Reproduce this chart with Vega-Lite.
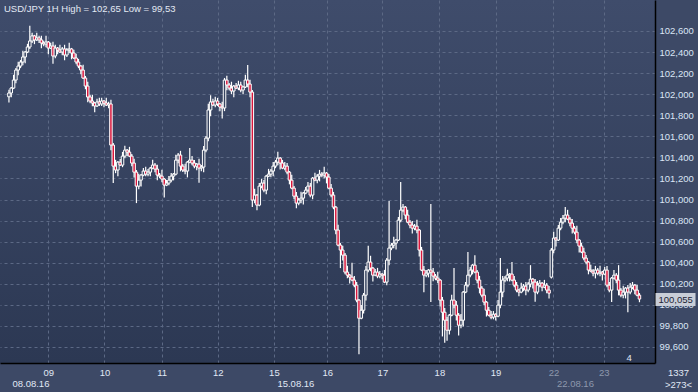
{
"$schema": "https://vega.github.io/schema/vega-lite/v6.json",
"width": 655, "height": 363,
"autosize": "none",
"padding": {"left": 0, "top": 0, "right": 43, "bottom": 29},
"background": "#3d4966",
"title": {"text": "USD/JPY 1H High = 102,65 Low = 99,53", "anchor": "start", "offset": -13, "fontSize": 9.5, "font": "Liberation Sans", "fontWeight": "normal", "color": "#e3e9f4", "dx": 4},
"config": {
  "view": {"stroke": null, "fill": {"gradient": "linear", "x1": 0, "y1": 0, "x2": 0, "y2": 1, "stops": [{"offset": 0, "color": "#3f4c6b"}, {"offset": 1, "color": "#2c3853"}]}},
  "axis": {"labelFont": "Liberation Sans", "labelFontSize": 9.5, "titleFont": "Liberation Sans", "titleFontSize": 9.5, "titleFontWeight": "normal", "titleColor": "#e0e8f5"}
},
"data": {"values": [
{"i":0,"o":101.975,"h":102.041,"l":101.92,"c":102.011},
{"i":1,"o":102.011,"h":102.068,"l":101.971,"c":102.058},
{"i":2,"o":102.058,"h":102.184,"l":102.048,"c":102.134},
{"i":3,"o":102.134,"h":102.249,"l":102.104,"c":102.229},
{"i":4,"o":102.229,"h":102.307,"l":102.179,"c":102.267},
{"i":5,"o":102.267,"h":102.325,"l":102.247,"c":102.305},
{"i":6,"o":102.305,"h":102.413,"l":102.275,"c":102.353},
{"i":7,"o":102.353,"h":102.41,"l":102.293,"c":102.4},
{"i":8,"o":102.4,"h":102.478,"l":102.39,"c":102.448},
{"i":9,"o":102.448,"h":102.65,"l":102.428,"c":102.505},
{"i":10,"o":102.505,"h":102.583,"l":102.485,"c":102.553},
{"i":11,"o":102.553,"h":102.563,"l":102.475,"c":102.515},
{"i":12,"o":102.515,"h":102.584,"l":102.505,"c":102.534},
{"i":13,"o":102.534,"h":102.554,"l":102.485,"c":102.515},
{"i":14,"o":102.515,"h":102.555,"l":102.436,"c":102.486},
{"i":15,"o":102.486,"h":102.506,"l":102.456,"c":102.476},
{"i":16,"o":102.476,"h":102.555,"l":102.446,"c":102.495},
{"i":17,"o":102.495,"h":102.505,"l":102.378,"c":102.438},
{"i":18,"o":102.438,"h":102.487,"l":102.428,"c":102.457},
{"i":19,"o":102.457,"h":102.497,"l":102.29,"c":102.362},
{"i":20,"o":102.362,"h":102.468,"l":102.342,"c":102.438},
{"i":21,"o":102.438,"h":102.448,"l":102.379,"c":102.419},
{"i":22,"o":102.419,"h":102.469,"l":102.39,"c":102.4},
{"i":23,"o":102.4,"h":102.449,"l":102.37,"c":102.429},
{"i":24,"o":102.429,"h":102.469,"l":102.322,"c":102.372},
{"i":25,"o":102.372,"h":102.439,"l":102.352,"c":102.419},
{"i":26,"o":102.419,"h":102.489,"l":102.389,"c":102.429},
{"i":27,"o":102.429,"h":102.439,"l":102.331,"c":102.391},
{"i":28,"o":102.391,"h":102.421,"l":102.333,"c":102.343},
{"i":29,"o":102.343,"h":102.383,"l":102.285,"c":102.305},
{"i":30,"o":102.305,"h":102.335,"l":102.247,"c":102.267},
{"i":31,"o":102.267,"h":102.277,"l":102.189,"c":102.229},
{"i":32,"o":102.229,"h":102.279,"l":102.143,"c":102.153},
{"i":33,"o":102.153,"h":102.173,"l":102.047,"c":102.077},
{"i":34,"o":102.077,"h":102.117,"l":101.923,"c":101.973},
{"i":35,"o":101.973,"h":101.993,"l":101.915,"c":101.935},
{"i":36,"o":101.935,"h":101.995,"l":101.886,"c":101.916},
{"i":37,"o":101.916,"h":101.926,"l":101.828,"c":101.888},
{"i":38,"o":101.888,"h":101.956,"l":101.878,"c":101.926},
{"i":39,"o":101.926,"h":101.966,"l":101.887,"c":101.907},
{"i":40,"o":101.907,"h":101.965,"l":101.887,"c":101.935},
{"i":41,"o":101.935,"h":101.945,"l":101.876,"c":101.916},
{"i":42,"o":101.916,"h":101.966,"l":101.887,"c":101.897},
{"i":43,"o":101.897,"h":101.927,"l":101.867,"c":101.907},
{"i":44,"o":101.907,"h":101.947,"l":101.467,"c":101.517},
{"i":45,"o":101.517,"h":101.537,"l":101.156,"c":101.317},
{"i":46,"o":101.317,"h":101.377,"l":101.25,"c":101.28},
{"i":47,"o":101.28,"h":101.365,"l":101.22,"c":101.355},
{"i":48,"o":101.355,"h":101.385,"l":101.317,"c":101.327},
{"i":49,"o":101.327,"h":101.452,"l":101.307,"c":101.412},
{"i":50,"o":101.412,"h":101.51,"l":101.392,"c":101.469},
{"i":51,"o":101.469,"h":101.479,"l":101.41,"c":101.45},
{"i":52,"o":101.45,"h":101.5,"l":101.402,"c":101.412},
{"i":53,"o":101.412,"h":101.432,"l":101.316,"c":101.346},
{"i":54,"o":101.346,"h":101.386,"l":101.21,"c":101.26},
{"i":55,"o":101.26,"h":101.28,"l":100.966,"c":101.127},
{"i":56,"o":101.127,"h":101.244,"l":101.097,"c":101.184},
{"i":57,"o":101.184,"h":101.242,"l":101.124,"c":101.232},
{"i":58,"o":101.232,"h":101.3,"l":101.222,"c":101.27},
{"i":59,"o":101.27,"h":101.31,"l":101.221,"c":101.241},
{"i":60,"o":101.241,"h":101.29,"l":101.221,"c":101.26},
{"i":61,"o":101.26,"h":101.308,"l":101.22,"c":101.298},
{"i":62,"o":101.298,"h":101.377,"l":101.288,"c":101.327},
{"i":63,"o":101.327,"h":101.347,"l":101.259,"c":101.289},
{"i":64,"o":101.289,"h":101.329,"l":101.182,"c":101.232},
{"i":65,"o":101.232,"h":101.252,"l":101.202,"c":101.222},
{"i":66,"o":101.222,"h":101.282,"l":101.164,"c":101.194},
{"i":67,"o":101.194,"h":101.204,"l":101.02,"c":101.137},
{"i":68,"o":101.137,"h":101.186,"l":101.127,"c":101.156},
{"i":69,"o":101.156,"h":101.224,"l":101.136,"c":101.184},
{"i":70,"o":101.184,"h":101.252,"l":101.164,"c":101.222},
{"i":71,"o":101.222,"h":101.251,"l":101.182,"c":101.241},
{"i":72,"o":101.241,"h":101.424,"l":101.231,"c":101.374},
{"i":73,"o":101.374,"h":101.442,"l":101.344,"c":101.422},
{"i":74,"o":101.422,"h":101.462,"l":101.267,"c":101.317},
{"i":75,"o":101.317,"h":101.337,"l":101.26,"c":101.28},
{"i":76,"o":101.28,"h":101.34,"l":101.24,"c":101.27},
{"i":77,"o":101.27,"h":101.365,"l":101.21,"c":101.355},
{"i":78,"o":101.355,"h":101.49,"l":101.345,"c":101.374},
{"i":79,"o":101.374,"h":101.414,"l":101.326,"c":101.346},
{"i":80,"o":101.346,"h":101.376,"l":101.297,"c":101.317},
{"i":81,"o":101.317,"h":101.346,"l":101.277,"c":101.336},
{"i":82,"o":101.336,"h":101.386,"l":101.16,"c":101.298},
{"i":83,"o":101.298,"h":101.328,"l":101.268,"c":101.308},
{"i":84,"o":101.308,"h":101.509,"l":101.258,"c":101.469},
{"i":85,"o":101.469,"h":101.603,"l":101.449,"c":101.583},
{"i":86,"o":101.583,"h":101.91,"l":101.553,"c":101.85},
{"i":87,"o":101.85,"h":101.99,"l":101.79,"c":101.926},
{"i":88,"o":101.926,"h":101.956,"l":101.887,"c":101.897},
{"i":89,"o":101.897,"h":101.975,"l":101.877,"c":101.935},
{"i":90,"o":101.935,"h":101.965,"l":101.887,"c":101.907},
{"i":91,"o":101.907,"h":101.917,"l":101.838,"c":101.878},
{"i":92,"o":101.878,"h":101.928,"l":101.77,"c":101.869},
{"i":93,"o":101.869,"h":102.154,"l":101.839,"c":102.134},
{"i":94,"o":102.134,"h":102.174,"l":102.037,"c":102.087},
{"i":95,"o":102.087,"h":102.107,"l":102.038,"c":102.058},
{"i":96,"o":102.058,"h":102.118,"l":102.0,"c":102.03},
{"i":97,"o":102.03,"h":102.087,"l":101.97,"c":102.077},
{"i":98,"o":102.077,"h":102.107,"l":102.048,"c":102.058},
{"i":99,"o":102.058,"h":102.127,"l":102.038,"c":102.087},
{"i":100,"o":102.087,"h":102.117,"l":102.019,"c":102.039},
{"i":101,"o":102.039,"h":102.078,"l":101.999,"c":102.068},
{"i":102,"o":102.068,"h":102.184,"l":102.058,"c":102.134},
{"i":103,"o":102.134,"h":102.277,"l":102.066,"c":102.096},
{"i":104,"o":102.096,"h":102.136,"l":101.97,"c":102.02},
{"i":105,"o":102.02,"h":102.04,"l":100.928,"c":100.995},
{"i":106,"o":100.995,"h":101.102,"l":100.965,"c":101.042},
{"i":107,"o":101.042,"h":101.052,"l":100.899,"c":100.947},
{"i":108,"o":100.947,"h":101.157,"l":100.937,"c":101.127},
{"i":109,"o":101.127,"h":101.196,"l":101.107,"c":101.156},
{"i":110,"o":101.156,"h":101.186,"l":101.069,"c":101.089},
{"i":111,"o":101.089,"h":101.232,"l":101.049,"c":101.222},
{"i":112,"o":101.222,"h":101.291,"l":101.212,"c":101.241},
{"i":113,"o":101.241,"h":101.29,"l":101.211,"c":101.27},
{"i":114,"o":101.27,"h":101.357,"l":101.22,"c":101.317},
{"i":115,"o":101.317,"h":101.375,"l":101.297,"c":101.355},
{"i":116,"o":101.355,"h":101.453,"l":101.325,"c":101.393},
{"i":117,"o":101.393,"h":101.403,"l":101.286,"c":101.346},
{"i":118,"o":101.346,"h":101.376,"l":101.288,"c":101.298},
{"i":119,"o":101.298,"h":101.357,"l":101.278,"c":101.317},
{"i":120,"o":101.317,"h":101.347,"l":101.24,"c":101.26},
{"i":121,"o":101.26,"h":101.27,"l":101.144,"c":101.184},
{"i":122,"o":101.184,"h":101.234,"l":101.098,"c":101.108},
{"i":123,"o":101.108,"h":101.128,"l":101.002,"c":101.032},
{"i":124,"o":101.032,"h":101.072,"l":100.916,"c":100.966},
{"i":125,"o":100.966,"h":101.015,"l":100.946,"c":100.995},
{"i":126,"o":100.995,"h":101.073,"l":100.965,"c":101.013},
{"i":127,"o":101.013,"h":101.071,"l":100.953,"c":101.061},
{"i":128,"o":101.061,"h":101.119,"l":101.051,"c":101.089},
{"i":129,"o":101.089,"h":101.167,"l":101.069,"c":101.127},
{"i":130,"o":101.127,"h":101.157,"l":101.022,"c":101.042},
{"i":131,"o":101.042,"h":101.213,"l":101.002,"c":101.203},
{"i":132,"o":101.203,"h":101.253,"l":101.174,"c":101.184},
{"i":133,"o":101.184,"h":101.242,"l":101.154,"c":101.222},
{"i":134,"o":101.222,"h":101.281,"l":101.172,"c":101.241},
{"i":135,"o":101.241,"h":101.261,"l":101.212,"c":101.232},
{"i":136,"o":101.232,"h":101.311,"l":101.202,"c":101.251},
{"i":137,"o":101.251,"h":101.261,"l":101.153,"c":101.213},
{"i":138,"o":101.213,"h":101.243,"l":101.098,"c":101.108},
{"i":139,"o":101.108,"h":101.148,"l":101.022,"c":101.042},
{"i":140,"o":101.042,"h":101.072,"l":100.908,"c":100.928},
{"i":141,"o":100.928,"h":100.938,"l":100.67,"c":100.71},
{"i":142,"o":100.71,"h":100.76,"l":100.557,"c":100.567},
{"i":143,"o":100.567,"h":100.587,"l":100.349,"c":100.52},
{"i":144,"o":100.52,"h":100.56,"l":100.422,"c":100.472},
{"i":145,"o":100.472,"h":100.492,"l":100.291,"c":100.311},
{"i":146,"o":100.311,"h":100.371,"l":100.252,"c":100.282},
{"i":147,"o":100.282,"h":100.292,"l":100.203,"c":100.263},
{"i":148,"o":100.263,"h":100.4,"l":100.225,"c":100.235},
{"i":149,"o":100.235,"h":100.275,"l":100.167,"c":100.187},
{"i":150,"o":100.187,"h":100.217,"l":100.025,"c":100.045},
{"i":151,"o":100.045,"h":100.055,"l":99.53,"c":99.873},
{"i":152,"o":99.873,"h":99.999,"l":99.863,"c":99.949},
{"i":153,"o":99.949,"h":100.112,"l":99.919,"c":100.092},
{"i":154,"o":100.092,"h":100.37,"l":100.042,"c":100.33},
{"i":155,"o":100.33,"h":100.56,"l":100.31,"c":100.406},
{"i":156,"o":100.406,"h":100.466,"l":100.319,"c":100.349},
{"i":157,"o":100.349,"h":100.359,"l":100.222,"c":100.282},
{"i":158,"o":100.282,"h":100.341,"l":100.272,"c":100.311},
{"i":159,"o":100.311,"h":100.351,"l":100.253,"c":100.273},
{"i":160,"o":100.273,"h":100.322,"l":100.253,"c":100.292},
{"i":161,"o":100.292,"h":100.302,"l":100.242,"c":100.282},
{"i":162,"o":100.282,"h":100.332,"l":100.206,"c":100.216},
{"i":163,"o":100.216,"h":100.445,"l":100.186,"c":100.425},
{"i":164,"o":100.425,"h":100.985,"l":100.375,"c":100.539},
{"i":165,"o":100.539,"h":100.587,"l":100.519,"c":100.567},
{"i":166,"o":100.567,"h":100.646,"l":100.537,"c":100.586},
{"i":167,"o":100.586,"h":100.625,"l":100.526,"c":100.615},
{"i":168,"o":100.615,"h":100.834,"l":100.605,"c":100.804},
{"i":169,"o":100.804,"h":101.166,"l":100.784,"c":100.899},
{"i":170,"o":100.899,"h":100.958,"l":100.879,"c":100.928},
{"i":171,"o":100.928,"h":100.938,"l":100.812,"c":100.852},
{"i":172,"o":100.852,"h":100.902,"l":100.775,"c":100.785},
{"i":173,"o":100.785,"h":100.805,"l":100.727,"c":100.757},
{"i":174,"o":100.757,"h":100.797,"l":100.678,"c":100.728},
{"i":175,"o":100.728,"h":100.767,"l":100.708,"c":100.747},
{"i":176,"o":100.747,"h":100.807,"l":100.68,"c":100.71},
{"i":177,"o":100.71,"h":100.72,"l":100.46,"c":100.52},
{"i":178,"o":100.52,"h":100.55,"l":100.32,"c":100.33},
{"i":179,"o":100.33,"h":100.37,"l":100.12,"c":100.282},
{"i":180,"o":100.282,"h":100.331,"l":100.262,"c":100.301},
{"i":181,"o":100.301,"h":100.34,"l":100.261,"c":100.33},
{"i":182,"o":100.33,"h":100.957,"l":100.026,"c":100.311},
{"i":183,"o":100.311,"h":100.351,"l":100.223,"c":100.273},
{"i":184,"o":100.273,"h":100.293,"l":100.234,"c":100.254},
{"i":185,"o":100.254,"h":100.314,"l":100.205,"c":100.235},
{"i":186,"o":100.235,"h":100.245,"l":99.985,"c":100.045},
{"i":187,"o":100.045,"h":100.075,"l":99.7,"c":99.93},
{"i":188,"o":99.93,"h":99.97,"l":99.64,"c":99.854},
{"i":189,"o":99.854,"h":99.884,"l":99.66,"c":99.759},
{"i":190,"o":99.759,"h":99.912,"l":99.719,"c":99.902},
{"i":191,"o":99.902,"h":100.095,"l":99.892,"c":100.045},
{"i":192,"o":100.045,"h":100.349,"l":99.967,"c":99.997},
{"i":193,"o":99.997,"h":100.037,"l":99.852,"c":99.902},
{"i":194,"o":99.902,"h":99.922,"l":99.71,"c":99.807},
{"i":195,"o":99.807,"h":99.913,"l":99.777,"c":99.854},
{"i":196,"o":99.854,"h":100.131,"l":99.794,"c":100.121},
{"i":197,"o":100.121,"h":100.217,"l":100.111,"c":100.187},
{"i":198,"o":100.187,"h":100.501,"l":100.167,"c":100.282},
{"i":199,"o":100.282,"h":100.36,"l":100.262,"c":100.33},
{"i":200,"o":100.33,"h":100.387,"l":100.29,"c":100.377},
{"i":201,"o":100.377,"h":100.472,"l":100.301,"c":100.311},
{"i":202,"o":100.311,"h":100.331,"l":100.205,"c":100.235},
{"i":203,"o":100.235,"h":100.275,"l":100.109,"c":100.159},
{"i":204,"o":100.159,"h":100.179,"l":100.072,"c":100.092},
{"i":205,"o":100.092,"h":100.152,"l":99.996,"c":100.026},
{"i":206,"o":100.026,"h":100.036,"l":99.889,"c":99.949},
{"i":207,"o":99.949,"h":99.979,"l":99.892,"c":99.902},
{"i":208,"o":99.902,"h":99.942,"l":99.863,"c":99.883},
{"i":209,"o":99.883,"h":99.941,"l":99.863,"c":99.911},
{"i":210,"o":99.911,"h":99.921,"l":99.852,"c":99.892},
{"i":211,"o":99.892,"h":100.047,"l":99.882,"c":99.997},
{"i":212,"o":99.997,"h":100.444,"l":99.967,"c":100.121},
{"i":213,"o":100.121,"h":100.275,"l":100.071,"c":100.235},
{"i":214,"o":100.235,"h":100.274,"l":100.215,"c":100.254},
{"i":215,"o":100.254,"h":100.342,"l":100.224,"c":100.282},
{"i":216,"o":100.282,"h":100.302,"l":100.222,"c":100.292},
{"i":217,"o":100.292,"h":100.406,"l":100.225,"c":100.235},
{"i":218,"o":100.235,"h":100.275,"l":100.167,"c":100.187},
{"i":219,"o":100.187,"h":100.217,"l":100.12,"c":100.14},
{"i":220,"o":100.14,"h":100.15,"l":100.081,"c":100.121},
{"i":221,"o":100.121,"h":100.209,"l":100.111,"c":100.159},
{"i":222,"o":100.159,"h":100.198,"l":100.129,"c":100.178},
{"i":223,"o":100.178,"h":100.218,"l":100.09,"c":100.14},
{"i":224,"o":100.14,"h":100.217,"l":100.12,"c":100.197},
{"i":225,"o":100.197,"h":100.377,"l":100.167,"c":100.244},
{"i":226,"o":100.244,"h":100.254,"l":100.156,"c":100.216},
{"i":227,"o":100.216,"h":100.246,"l":100.03,"c":100.121},
{"i":228,"o":100.121,"h":100.227,"l":100.101,"c":100.187},
{"i":229,"o":100.187,"h":100.236,"l":100.167,"c":100.206},
{"i":230,"o":100.206,"h":100.216,"l":100.128,"c":100.168},
{"i":231,"o":100.168,"h":100.237,"l":100.158,"c":100.187},
{"i":232,"o":100.187,"h":100.207,"l":100.11,"c":100.14},
{"i":233,"o":100.14,"h":100.18,"l":100.061,"c":100.111},
{"i":234,"o":100.263,"h":100.54,"l":100.25,"c":100.52},
{"i":235,"o":100.52,"h":100.694,"l":100.49,"c":100.634},
{"i":236,"o":100.634,"h":100.644,"l":100.555,"c":100.615},
{"i":237,"o":100.615,"h":100.758,"l":100.605,"c":100.728},
{"i":238,"o":100.728,"h":100.825,"l":100.708,"c":100.785},
{"i":239,"o":100.785,"h":100.853,"l":100.765,"c":100.823},
{"i":240,"o":100.823,"h":100.928,"l":100.783,"c":100.852},
{"i":241,"o":100.852,"h":100.902,"l":100.804,"c":100.814},
{"i":242,"o":100.814,"h":100.834,"l":100.746,"c":100.776},
{"i":243,"o":100.776,"h":100.816,"l":100.678,"c":100.728},
{"i":244,"o":100.728,"h":100.748,"l":100.67,"c":100.69},
{"i":245,"o":100.69,"h":100.75,"l":100.585,"c":100.615},
{"i":246,"o":100.615,"h":100.625,"l":100.498,"c":100.558},
{"i":247,"o":100.558,"h":100.588,"l":100.491,"c":100.501},
{"i":248,"o":100.501,"h":100.541,"l":100.424,"c":100.444},
{"i":249,"o":100.444,"h":100.474,"l":100.386,"c":100.406},
{"i":250,"o":100.406,"h":100.416,"l":100.29,"c":100.33},
{"i":251,"o":100.33,"h":100.38,"l":100.31,"c":100.32},
{"i":252,"o":100.32,"h":100.34,"l":100.271,"c":100.301},
{"i":253,"o":100.301,"h":100.37,"l":100.251,"c":100.33},
{"i":254,"o":100.33,"h":100.35,"l":100.281,"c":100.301},
{"i":255,"o":100.301,"h":100.371,"l":100.271,"c":100.311},
{"i":256,"o":100.311,"h":100.321,"l":100.232,"c":100.292},
{"i":257,"o":100.292,"h":100.36,"l":100.282,"c":100.33},
{"i":258,"o":100.33,"h":100.37,"l":100.167,"c":100.187},
{"i":259,"o":100.187,"h":100.217,"l":100.12,"c":100.14},
{"i":260,"o":100.14,"h":100.264,"l":100.026,"c":100.254},
{"i":261,"o":100.254,"h":100.332,"l":100.244,"c":100.282},
{"i":262,"o":100.282,"h":100.302,"l":100.205,"c":100.235},
{"i":263,"o":100.235,"h":100.377,"l":100.09,"c":100.14},
{"i":264,"o":100.14,"h":100.16,"l":100.072,"c":100.092},
{"i":265,"o":100.092,"h":100.181,"l":100.062,"c":100.121},
{"i":266,"o":100.121,"h":100.169,"l":100.061,"c":100.159},
{"i":267,"o":100.159,"h":100.189,"l":99.93,"c":100.121},
{"i":268,"o":100.121,"h":100.208,"l":100.101,"c":100.168},
{"i":269,"o":100.168,"h":100.217,"l":100.148,"c":100.187},
{"i":270,"o":100.187,"h":100.197,"l":100.1,"c":100.14},
{"i":271,"o":100.14,"h":100.19,"l":100.082,"c":100.092},
{"i":272,"o":100.092,"h":100.112,"l":100.025,"c":100.055}
]},
"layer": [
  {
    "mark": {"type": "rule", "color": "#ffffff", "strokeWidth": 1.2},
    "encoding": {
      "x": {"field": "i", "type": "quantitative",
        "scale": {"domain": [-1.7, 276.55], "nice": false, "zero": false},
        "axis": {"orient": "bottom", "title": null, "values": [17, 41.2, 65.9, 90.1, 114.3, 137.3, 161.1, 185.7, 209.9, 234.9, 256.6],
          "labelExpr": "['09','10','11','12','15','16','17','18','19','22','23'][indexof([17, 41.2, 65.9, 90.1, 114.3, 137.3, 161.1, 185.7, 209.9, 234.9, 256.6], datum.value)]",
          "grid": true, "gridColor": "#5c6985", "gridDash": [3, 3], "gridWidth": 1,
          "ticks": false, "domainColor": "#000000", "domainWidth": 1.5,
          "labelColor": {"condition": {"test": "datum.value > 219", "value": "#8e98ad"}, "value": "#e0e8f5"},
          "labelPadding": 4, "labelFlush": false, "labelOverlap": false, "labelBound": false}},
      "y": {"field": "l", "type": "quantitative",
        "scale": {"domain": [99.448, 102.894], "nice": false, "zero": false},
        "axis": {"orient": "right", "values": [99.6, 99.8, 100.0, 100.2, 100.4, 100.6, 100.8, 101.0, 101.2, 101.4, 101.6, 101.8, 102.0, 102.2, 102.4, 102.6],
          "labelExpr": "replace(format(datum.value, '.3f'), '.', ',')",
          "grid": true, "gridColor": "#5c6985", "gridDash": [3, 3], "gridWidth": 1,
          "ticks": false, "domainColor": "#000000", "domainWidth": 1.5,
          "labelColor": "#dbe5f5", "labelPadding": 4, "labelAlign": "left", "labelFlush": false, "labelOverlap": false,
          "title": "1337", "titleAngle": 0, "titleX": 23, "titleY": 372, "titleAlign": "center", "titleBaseline": "middle"}},
      "y2": {"field": "h"}
    }
  },
  {
    "mark": {"type": "bar", "orient": "vertical", "width": 2.5, "stroke": "#ffffff", "strokeWidth": 1},
    "encoding": {
      "x": {"field": "i", "type": "quantitative",
        "axis": {"orient": "bottom", "title": null, "values": [0, 114.3, 234.9, 267.3],
          "labelExpr": "datum.value < 50 ? '08.08.16' : (datum.value < 200 ? '15.08.16' : (datum.value < 250 ? '22.08.16' : '4'))",
          "grid": false, "ticks": false, "domain": false,
          "labelAlign": {"condition": {"test": "datum.value > 250", "value": "center"}, "value": "left"},
          "labelOffset": {"condition": {"test": "datum.value > 250", "value": 0}, "value": 3},
          "labelPadding": {"condition": {"test": "datum.value > 250", "value": -11}, "value": 15},
          "labelColor": {"condition": {"test": "datum.value > 219 && datum.value < 250", "value": "#8e98ad"}, "value": "#e0e8f5"},
          "labelFlush": false, "labelOverlap": false, "labelBound": false}},
      "y": {"field": "o", "type": "quantitative",
        "axis": {"orient": "right", "values": [100.055],
          "labelExpr": "replace(format(datum.value, '.3f'), '.', ',')",
          "grid": false, "domain": false, "ticks": true, "tickSize": 40, "tickWidth": 13, "tickColor": "#c8cdd7",
          "labelPadding": -37, "labelAlign": "left", "labelColor": "#1c2436", "labelFlush": false, "zindex": 3,
          "title": ">273<", "titleAngle": 0, "titleX": 23, "titleY": 384, "titleAlign": "center", "titleBaseline": "middle"}},
      "y2": {"field": "c"},
      "fill": {"condition": {"test": "datum.c < datum.o", "value": "#d8163c"}, "value": "#36435f"}
    }
  }
],
"resolve": {"axis": {"x": "independent", "y": "independent"}}
}
